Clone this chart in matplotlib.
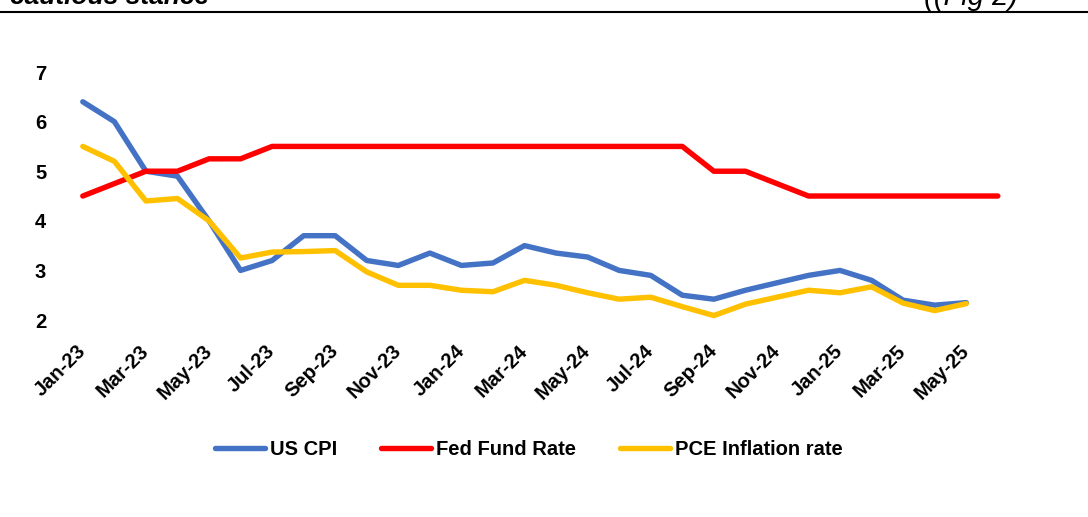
import numpy as np
import matplotlib
matplotlib.use("Agg")
import matplotlib.pyplot as plt
from matplotlib.lines import Line2D

plt.rcParams['font.family'] = ['Liberation Sans', 'DejaVu Sans']

# monthly, Jan-23 .. Jun-25
months = ['Jan-23', 'Feb-23', 'Mar-23', 'Apr-23', 'May-23', 'Jun-23', 'Jul-23', 'Aug-23',
          'Sep-23', 'Oct-23', 'Nov-23', 'Dec-23', 'Jan-24', 'Feb-24', 'Mar-24', 'Apr-24',
          'May-24', 'Jun-24', 'Jul-24', 'Aug-24', 'Sep-24', 'Oct-24', 'Nov-24', 'Dec-24',
          'Jan-25', 'Feb-25', 'Mar-25', 'Apr-25', 'May-25', 'Jun-25']

us_cpi = [6.4, 6.0, 5.0, 4.9, 4.0, 3.0, 3.2, 3.7, 3.7, 3.2, 3.1, 3.35, 3.1, 3.15, 3.5,
          3.35, 3.27, 3.0, 2.9, 2.5, 2.42, 2.6, 2.75, 2.9, 3.0, 2.8, 2.4, 2.3, 2.35]
fed_rate = [4.5, 4.75, 5.0, 5.0, 5.25, 5.25, 5.5, 5.5, 5.5, 5.5, 5.5, 5.5, 5.5, 5.5, 5.5,
            5.5, 5.5, 5.5, 5.5, 5.5, 5.0, 5.0, 4.75, 4.5, 4.5, 4.5, 4.5, 4.5, 4.5, 4.5]
pce = [5.5, 5.2, 4.4, 4.45, 4.0, 3.25, 3.37, 3.38, 3.4, 2.97, 2.7, 2.7, 2.6, 2.57, 2.8,
       2.7, 2.55, 2.42, 2.46, 2.27, 2.09, 2.32, 2.46, 2.6, 2.55, 2.67, 2.34, 2.19, 2.33]

names = ['US CPI', 'Fed Fund Rate', 'PCE Inflation rate']
colors = ['#4472C4', '#FF0000', '#FFC000']

fig = plt.figure(figsize=(10.88, 5.17), dpi=100)
ax = fig.add_axes([0.0616, 0.381, 0.870, 0.4797])

lw = 3.9
for vals, c in zip([us_cpi, fed_rate, pce], colors):
    ax.plot(np.arange(len(vals)), vals, color=c, lw=lw, solid_capstyle='round',
            solid_joinstyle='round', clip_on=False)

ax.set_xlim(-0.5, len(months) - 0.5)
ax.set_ylim(2, 7)
ax.set_yticks([2, 3, 4, 5, 6, 7])
ax.set_xticks(np.arange(0, 29, 2))
ax.set_xticklabels(months[0:29:2], rotation=45, ha='right', va='center',
                   rotation_mode='anchor')
ax.tick_params(axis='x', length=0, pad=20, labelsize=14.5)
ax.tick_params(axis='y', length=0, pad=15, labelsize=14.5)
for lab in ax.get_xticklabels() + ax.get_yticklabels():
    lab.set_fontweight('bold')
for s in ax.spines.values():
    s.set_visible(False)

handles = [Line2D([], [], color=c, lw=lw, solid_capstyle='round') for c in colors]
leg = fig.legend(handles, names, loc='center', bbox_to_anchor=(0.486, 0.13), ncol=3,
                 frameon=False, handlelength=2.5, handletextpad=0.25, columnspacing=2.15,
                 prop={'weight': 'bold', 'size': 14.5})

# header remnants from the page above the chart (cut off at the top, as in the source)
fig.text(10 / 1088, 1 - 4 / 517, 'cautious stance', style='italic', fontweight='bold',
         fontsize=19, va='baseline', ha='left')
fig.text(1018 / 1088, 1 - 5 / 517, '((Fig 2)', style='italic', fontsize=21,
         va='baseline', ha='right')
fig.add_artist(Line2D([0, 1], [1 - 12 / 517, 1 - 12 / 517], color='black', lw=1.5,
                      transform=fig.transFigure))

fig.savefig('out.png', dpi=100)
